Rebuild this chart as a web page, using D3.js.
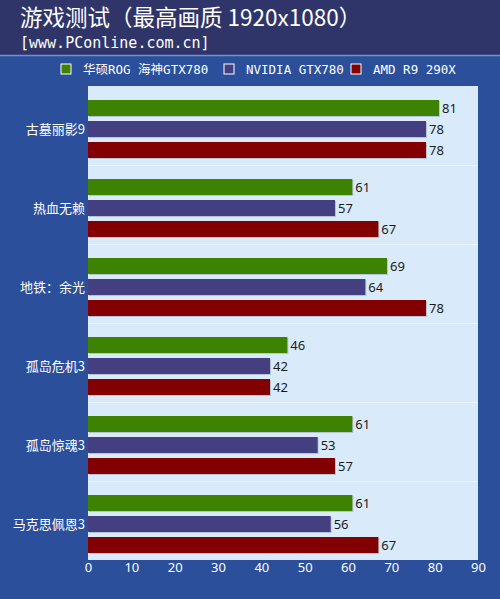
<!DOCTYPE html>
<html lang="zh">
<head>
<meta charset="UTF-8">
<title>游戏测试（最高画质 1920x1080）</title>
<script src="https://d3js.org/d3.v7.min.js"></script>
<style>
  body { margin: 0; background: #2b4f9b; }
  svg { display: block; }
</style>
</head>
<body>
<div id="chart"></div>
<script>
// data
const games = ['古墓丽影9', '热血无赖', '地铁：余光', '孤岛危机3', '孤岛惊魂3', '马克思佩恩3'];
const seriesNames = ['华硕ROG 海神GTX780', 'NVIDIA GTX780', 'AMD R9 290X'];
const rogValues = [81, 61, 69, 46, 61, 61];
const gtxValues = [78, 57, 64, 42, 53, 56];
const amdValues = [78, 67, 78, 42, 57, 67];
const xTicks = [0, 10, 20, 30, 40, 50, 60, 70, 80, 90];

const colors = ['#3d8200', '#443f81', '#820000'];
const allValues = [rogValues, gtxValues, amdValues];

const width = 500, height = 599;
const plot = { left: 88, right: 478, top: 86, bottom: 560 };

const svg = d3.select('#chart').append('svg')
    .attr('width', width)
    .attr('height', height);

// backgrounds
svg.append('rect').attr('width', width).attr('height', height).attr('fill', '#2b4f9b');
svg.append('rect').attr('width', width).attr('height', 55).attr('fill', '#2f3569');
svg.append('line')
    .attr('x1', 0).attr('x2', width).attr('y1', 55.5).attr('y2', 55.5)
    .attr('stroke', '#6f8fd6').attr('stroke-width', 1.5);

// title
svg.append('text')
    .attr('x', 20).attr('y', 26)
    .attr('fill', '#fff')
    .attr('font-family', '"Noto Sans CJK SC", sans-serif')
    .attr('font-size', 22.5)
    .text('游戏测试（最高画质 1920x1080）');
svg.append('text')
    .attr('x', 20).attr('y', 48)
    .attr('fill', '#fff')
    .attr('font-family', '"DejaVu Sans Mono", monospace')
    .attr('font-size', 15)
    .text('[www.PConline.com.cn]');

// legend
const legendX = [61, 224, 351];
const legend = svg.append('g');
seriesNames.forEach((name, i) => {
    legend.append('rect')
        .attr('x', legendX[i]).attr('y', 64)
        .attr('width', 10).attr('height', 10)
        .attr('fill', colors[i])
        .attr('stroke', '#fff').attr('stroke-width', 1);
    legend.append('text')
        .attr('x', legendX[i] + 22).attr('y', 74)
        .attr('fill', '#fff')
        .attr('font-family', '"DejaVu Sans Mono", "Noto Sans CJK SC", monospace')
        .attr('font-size', 12.5)
        .text(name);
});

// scales
const x = d3.scaleLinear().domain([0, 90]).range([plot.left, plot.right]);
const y = d3.scaleBand().domain(games).range([plot.top, plot.bottom]);
const ySub = d3.scaleBand().domain(d3.range(3)).range([14, 72]).paddingInner(5 / 21);

// plot area
svg.append('rect')
    .attr('x', plot.left).attr('y', plot.top)
    .attr('width', plot.right - plot.left).attr('height', plot.bottom - plot.top)
    .attr('fill', '#d9ebfb');

// faint separators between groups
svg.selectAll('.sep')
    .data(games.slice(1))
    .join('line')
    .attr('x1', plot.left).attr('x2', plot.right)
    .attr('y1', d => y(d) + 0.5).attr('y2', d => y(d) + 0.5)
    .attr('stroke', '#e9f4fd').attr('stroke-width', 1);

// bars
games.forEach((g, gi) => {
    allValues.forEach((vals, si) => {
        const by = y(g) + ySub(si);
        const bw = x(vals[gi]) - x(0);
        // light shadow
        svg.append('rect')
            .attr('x', x(0) + 1).attr('y', by + 1)
            .attr('width', bw).attr('height', ySub.bandwidth())
            .attr('fill', '#b9c3d6');
        svg.append('rect')
            .attr('x', x(0)).attr('y', by)
            .attr('width', bw).attr('height', ySub.bandwidth())
            .attr('fill', colors[si]);
        svg.append('text')
            .attr('x', x(vals[gi]) + 3).attr('y', by + ySub.bandwidth() / 2 + 5)
            .attr('fill', '#1a1a1a')
            .attr('font-family', '"Noto Sans", sans-serif')
            .attr('font-size', 13)
            .text(vals[gi]);
    });
});

// category labels
svg.selectAll('.cat')
    .data(games)
    .join('text')
    .attr('x', plot.left - 3)
    .attr('y', d => y(d) + 43 + 5)
    .attr('text-anchor', 'end')
    .attr('fill', '#fff')
    .attr('font-family', '"Noto Sans CJK SC", sans-serif')
    .attr('font-size', 13)
    .text(d => d);

// x axis
const xAxis = svg.append('g')
    .attr('transform', `translate(0,${plot.bottom})`)
    .call(d3.axisBottom(x).tickValues(xTicks).tickSize(0).tickPadding(3));
xAxis.select('.domain').remove();
xAxis.selectAll('text')
    .attr('fill', '#fff')
    .attr('font-family', '"Noto Sans", sans-serif')
    .attr('font-size', 13);
</script>
</body>
</html>
